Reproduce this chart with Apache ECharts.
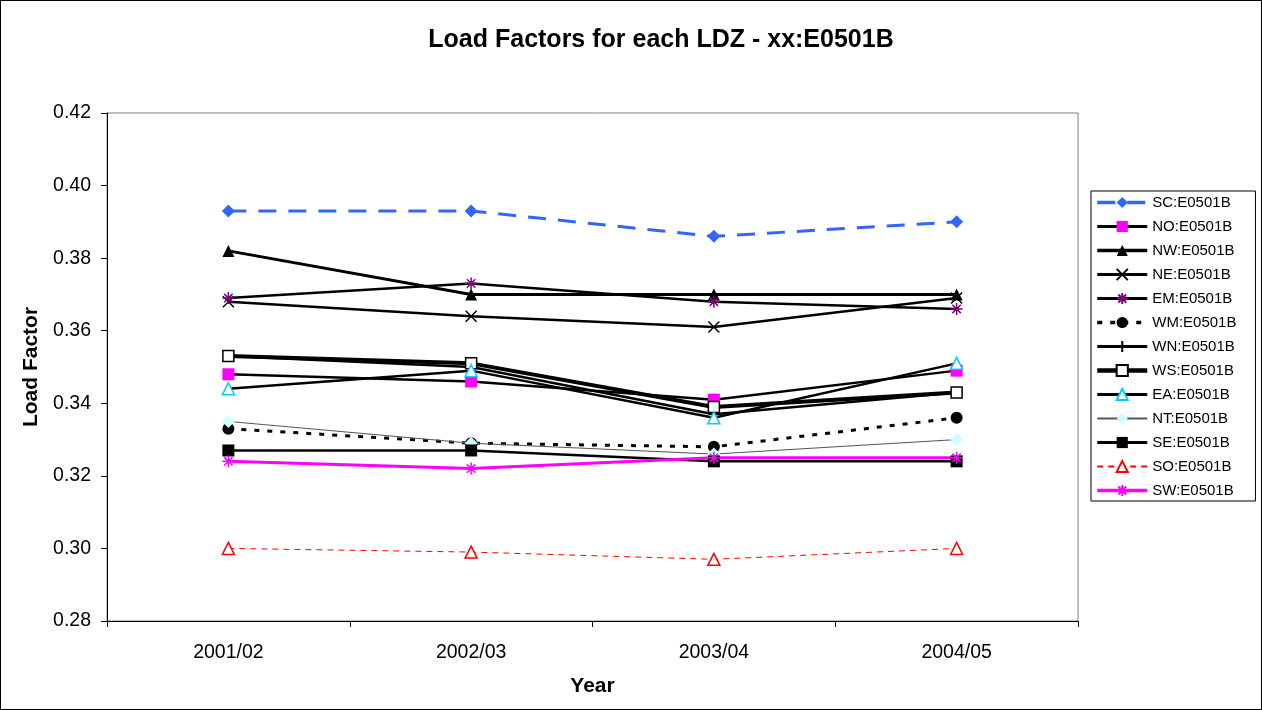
<!DOCTYPE html>
<html><head><meta charset="utf-8">
<script src="https://cdn.jsdelivr.net/npm/echarts@6/dist/echarts.min.js"></script>
<style>
html,body{margin:0;padding:0;background:#fff;}
#wrap{position:absolute;left:0;top:0;width:1260px;height:708px;border:1px solid #000;}
#c{width:1260px;height:708px;}
</style></head><body>
<div id="wrap"><div id="c"></div></div>
<script>
const categories = ['2001/02','2002/03','2003/04','2004/05'];
const SC = [0.393,0.393,0.386,0.390];
const NO = [0.348,0.346,0.341,0.349];
const NW = [0.382,0.370,0.370,0.370];
const NE = [0.368,0.364,0.361,0.369];
const EM = [0.369,0.373,0.368,0.366];
const WM = [0.333,0.329,0.328,0.336];
const WN = [0.353,0.350,0.337,0.343];
const WS = [0.353,0.351,0.339,0.343];
const EA = [0.344,0.349,0.336,0.351];
const NT = [0.335,0.329,0.326,0.330];
const SE = [0.327,0.327,0.324,0.324];
const SO = [0.300,0.299,0.297,0.300];
const SW = [0.324,0.322,0.325,0.325];
const yTicks = {min:0.28,max:0.42,interval:0.02};

const X_PATH = 'path://M0,0L10,10M10,0L0,10';
const STAR_PATH = 'path://M5,0L5,10M0,5L10,5M1.5,1.5L8.5,8.5M8.5,1.5L1.5,8.5';
const PLUS_PATH = 'path://M5,0L5,10M0,5L10,5';

const FONT = 'Liberation Sans, Arial';
function s(name,data,o){
  return {
    name:name,type:'line',data:data,
    symbol:o.symbol,symbolSize:o.size||11,
    lineStyle:{color:o.line,width:o.lw,type:o.dash||'solid'},
    itemStyle:{color:o.fill,borderColor:o.border||o.fill,borderWidth:o.bw||0},
    emphasis:{disabled:true},animation:false,
    _legendLw:o.llw||(o.lw+0.5)
  };
}
const series = [
  s('SC:E0501B',SC,{symbol:'diamond',size:13,line:'#3366FF',lw:3,dash:[18,12],fill:'#3366FF'}),
  s('NO:E0501B',NO,{symbol:'rect',size:12,line:'#000',lw:2.5,fill:'#FF00FF'}),
  s('NW:E0501B',NW,{symbol:'triangle',size:12,line:'#000',lw:3,fill:'#000'}),
  s('NE:E0501B',NE,{symbol:X_PATH,size:11,line:'#000',lw:2.5,fill:'#000',border:'#000',bw:1.5}),
  s('EM:E0501B',EM,{symbol:STAR_PATH,size:12,line:'#000',lw:2.5,fill:'#800080',border:'#800080',bw:1.5}),
  s('WM:E0501B',WM,{symbol:'circle',size:12,line:'#000',lw:3,dash:[5,8],fill:'#000'}),
  s('WN:E0501B',WN,{symbol:PLUS_PATH,size:11,line:'#000',lw:2.5,fill:'#000',border:'#000',bw:1.5}),
  s('WS:E0501B',WS,{symbol:'rect',size:11,line:'#000',lw:4,fill:'#fff',border:'#000',bw:1.5}),
  s('EA:E0501B',EA,{symbol:'triangle',size:12,line:'#000',lw:2.5,fill:'#fff',border:'#00CCFF',bw:1.5}),
  s('NT:E0501B',NT,{symbol:'diamond',size:13,line:'#555',lw:1,llw:2,fill:'#CCFFFF'}),
  s('SE:E0501B',SE,{symbol:'rect',size:12,line:'#000',lw:2.5,fill:'#000'}),
  s('SO:E0501B',SO,{symbol:'triangle',size:12,line:'#FF0000',lw:1,llw:1.2,dash:[6,5],fill:'#fff',border:'#FF0000',bw:1.5}),
  s('SW:E0501B',SW,{symbol:STAR_PATH,size:12,line:'#FF00FF',lw:3,fill:'#FF00FF',border:'#FF00FF',bw:1.5})
];
const legendData = series.map(x=>({name:x.name,
  lineStyle:{width:Math.max(2,x._legendLw),color:x.lineStyle.color,type:x.lineStyle.type}}));
series.forEach(x=>delete x._legendLw);

const chart = echarts.init(document.getElementById('c'),null,{renderer:'canvas'});
chart.setOption({
  backgroundColor:'#fff',
  animation:false,
  title:{text:'Load Factors for each LDZ - xx:E0501B',left:655,top:22,textAlign:'center',
    textStyle:{fontFamily:FONT,fontWeight:'bold',fontSize:25,color:'#000'}},
  grid:{left:106,top:112,width:971,height:508,show:true,borderColor:'#808080',borderWidth:1,backgroundColor:'#fff'},
  legend:{orient:'vertical',left:1090,top:190,itemGap:9,itemWidth:50,itemHeight:14,
    padding:[4,19,3,4],borderColor:'#000',borderWidth:1,
    textStyle:{fontFamily:FONT,fontSize:15,color:'#000'},
    data:legendData},
  xAxis:{type:'category',data:categories,boundaryGap:true,
    name:'Year',nameLocation:'middle',nameGap:55,
    nameTextStyle:{fontFamily:FONT,fontWeight:'bold',fontSize:21,color:'#000'},
    axisLine:{lineStyle:{color:'#000',width:1}},
    axisTick:{show:true,length:6,lineStyle:{color:'#000'}},
    axisLabel:{fontFamily:FONT,fontSize:19.5,color:'#000',margin:22}},
  yAxis:{type:'value',min:yTicks.min,max:yTicks.max,interval:yTicks.interval,
    name:'Load Factor',nameLocation:'middle',nameGap:63,nameRotate:90,
    nameTextStyle:{fontFamily:FONT,fontWeight:'bold',fontSize:21,color:'#000'},
    axisLine:{show:true,lineStyle:{color:'#000',width:1}},
    axisTick:{show:true,length:6,lineStyle:{color:'#000'}},
    splitLine:{show:false},
    axisLabel:{fontFamily:FONT,fontSize:19.5,color:'#000',margin:16,
      formatter:v=>v.toFixed(2)}},
  series:series
});
</script></body></html>
